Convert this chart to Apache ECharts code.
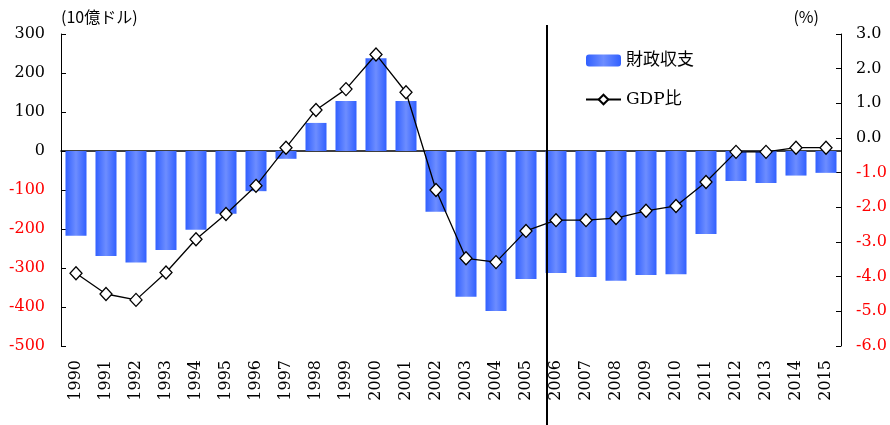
<!DOCTYPE html>
<html>
<head>
<meta charset="utf-8">
<script src="https://cdn.jsdelivr.net/npm/echarts@6/dist/echarts.min.js"></script>
<style>
  html, body { margin: 0; padding: 0; background: #fff; }
  #main { width: 890px; height: 425px; }
</style>
</head>
<body>
<div id="main"></div>
<script>
// 年
var years = ['1990', '1991', '1992', '1993', '1994', '1995', '1996', '1997', '1998', '1999',
  '2000', '2001', '2002', '2003', '2004', '2005', '2006', '2007', '2008', '2009',
  '2010', '2011', '2012', '2013', '2014', '2015'];
// 財政収支（10億ドル）
var balance = [-217, -269, -286, -254, -202, -161, -103, -20, 72, 128,
  238, 128, -156, -374, -410, -328, -313, -323, -333, -318,
  -316, -213, -77, -82, -63, -56];
// GDP比（%）
var gdpRatio = [-3.9, -4.5, -4.67, -3.88, -2.92, -2.19, -1.38, -0.28, 0.81, 1.41,
  2.41, 1.32, -1.5, -3.47, -3.58, -2.68, -2.37, -2.37, -2.31, -2.1,
  -1.96, -1.27, -0.4, -0.4, -0.28, -0.28];

var serif = 'DejaVu Serif';
var chart = echarts.init(document.getElementById('main'));

var barColor = new echarts.graphic.LinearGradient(0, 0, 1, 0, [
  { offset: 0, color: '#3160ff' },
  { offset: 0.5, color: '#6d8dff' },
  { offset: 1, color: '#3160ff' }
]);

chart.setOption({
  animation: false,
  grid: { left: 61, right: 49, top: 34, bottom: 79 },
  legend: {
    orient: 'vertical',
    left: 580,
    top: 47,
    itemWidth: 35,
    itemHeight: 12,
    itemGap: 22,
    textStyle: { fontFamily: serif + ', Noto Sans CJK JP', fontSize: 17, color: '#000' },
    data: ['財政収支', 'GDP比']
  },
  xAxis: [{
    type: 'category',
    data: years,
    position: 'bottom',
    axisLine: { show: false, onZero: false },
    axisTick: { show: false },
    axisLabel: { rotate: 90, margin: 14, fontFamily: serif, fontSize: 16, color: '#000' }
  }, {
    type: 'category',
    data: years,
    position: 'bottom',
    axisLine: { onZero: true, onZeroAxisIndex: 0, lineStyle: { color: '#000', width: 1.5 } },
    axisTick: { inside: true, length: 4, lineStyle: { color: '#000' } },
    axisLabel: { show: false }
  }],
  yAxis: [{
    type: 'value',
    min: -500,
    max: 300,
    interval: 100,
    name: '(10億ドル)',
    nameLocation: 'end',
    nameGap: 9,
    nameTextStyle: { fontFamily: 'Noto Sans CJK JP', fontSize: 16, color: '#000', align: 'left' },
    splitLine: { show: false },
    axisLine: { show: true, lineStyle: { color: '#000' } },
    axisTick: { show: true, inside: true, length: 5, lineStyle: { color: '#000' } },
    axisLabel: {
      margin: 16,
      fontFamily: serif,
      fontSize: 16,
      color: function (v) { return v < 0 ? '#ff0000' : '#000'; }
    }
  }, {
    type: 'value',
    min: -6,
    max: 3,
    interval: 1,
    position: 'right',
    name: '(%)',
    nameLocation: 'end',
    nameGap: 9,
    nameTextStyle: { fontFamily: 'Noto Sans CJK JP', fontSize: 16, color: '#000', align: 'right', padding: [0, 22, 0, 0] },
    splitLine: { show: false },
    axisLine: { show: true, lineStyle: { color: '#000' } },
    axisTick: { show: true, inside: true, length: 5, lineStyle: { color: '#000' } },
    axisLabel: {
      margin: 15,
      fontFamily: serif,
      fontSize: 16,
      formatter: function (v) { return v.toFixed(1); },
      color: function (v) { return Number(v) < 0 ? '#ff0000' : '#000'; }
    }
  }],
  series: [{
    name: '財政収支',
    type: 'bar',
    xAxisIndex: 0,
    yAxisIndex: 0,
    barWidth: 21,
    data: balance,
    itemStyle: { color: barColor }
  }, {
    name: 'GDP比',
    type: 'line',
    xAxisIndex: 0,
    yAxisIndex: 1,
    data: gdpRatio,
    symbol: 'diamond',
    symbolSize: [12, 13],
    z: 5,
    lineStyle: { color: '#000', width: 1.3 },
    itemStyle: { color: '#fff', borderColor: '#000', borderWidth: 1.3 }
  }],
  graphic: [{
    type: 'line',
    shape: { x1: 547, y1: 25, x2: 547, y2: 425 },
    style: { stroke: '#000', lineWidth: 2 },
    z: 10
  }]
});
</script>
</body>
</html>
